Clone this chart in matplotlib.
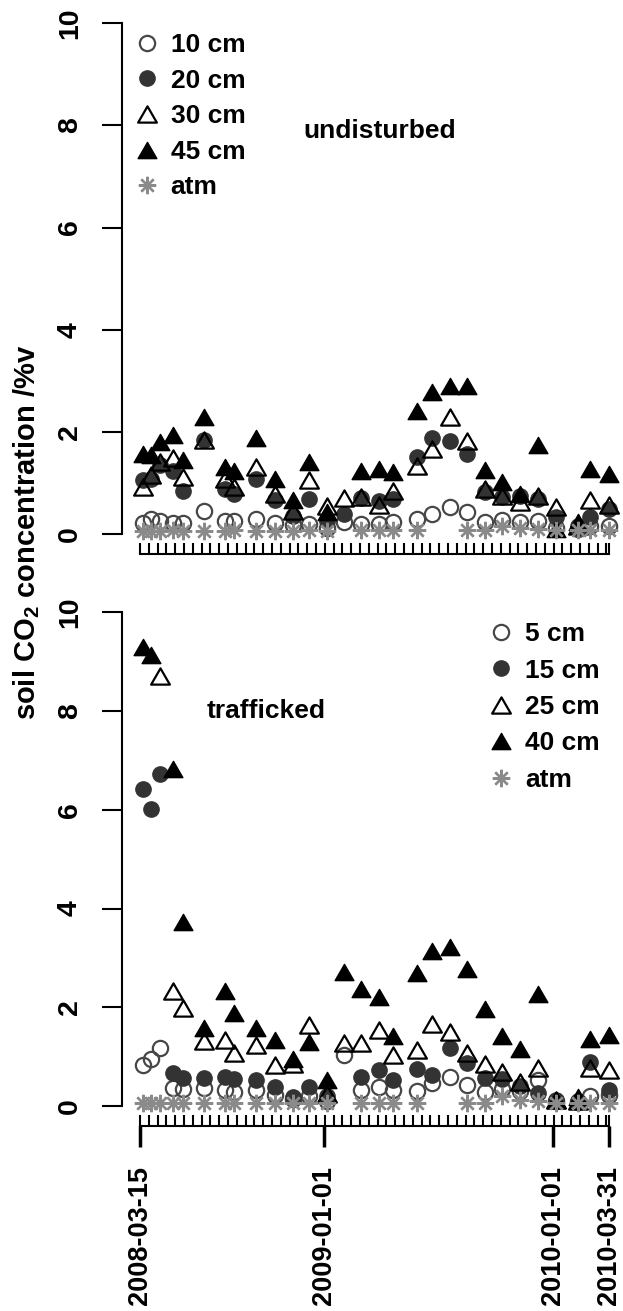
import numpy as np
import pandas as pd
import matplotlib
matplotlib.use("Agg")
import matplotlib.pyplot as plt
import matplotlib.dates as mdates
from matplotlib.path import Path

plt.rcParams['font.family'] = ['Liberation Sans', 'DejaVu Sans']
plt.rcParams['font.weight'] = 'bold'
plt.rcParams['mathtext.fontset'] = 'custom'
plt.rcParams['mathtext.rm'] = 'Liberation Sans:bold'
plt.rcParams['mathtext.it'] = 'Liberation Sans:bold'
plt.rcParams['mathtext.bf'] = 'Liberation Sans:bold'

nan = np.nan

# sampling dates
dates = pd.to_datetime([
    '2008-03-19', '2008-04-01', '2008-04-15', '2008-05-06', '2008-05-22',
    '2008-06-25', '2008-07-28', '2008-08-12', '2008-09-15', '2008-10-15',
    '2008-11-13', '2008-12-09', '2009-01-06', '2009-02-02', '2009-03-02',
    '2009-03-30', '2009-04-22', '2009-05-29', '2009-06-22', '2009-07-21',
    '2009-08-17', '2009-09-15', '2009-10-12', '2009-11-09', '2009-12-08',
    '2010-01-06', '2010-02-10', '2010-03-01', '2010-03-31'])

# undisturbed plot, CO2 in %v
und_10 = [0.22, 0.30, 0.26, 0.22, 0.22, 0.46, 0.26, 0.26, 0.30, 0.22, 0.18, 0.20, 0.12, 0.23, 0.20,
          0.20, 0.23, 0.29, 0.39, 0.52, 0.43, 0.23, 0.28, 0.23, 0.26, 0.12, 0.10, 0.16, 0.16]
und_20 = [1.05, 1.08, 1.35, 1.24, 0.85, 1.84, 0.89, 0.79, 1.07, 0.66, 0.36, 0.69, 0.26, 0.39, 0.70,
          0.64, 0.69, 1.51, 1.87, 1.82, 1.57, 0.82, 0.72, 0.74, 0.69, 0.33, 0.15, 0.33, 0.49]
und_30 = [0.92, 1.15, 1.40, 1.48, 1.12, 1.84, 1.08, 0.92, 1.31, 0.79, 0.45, 1.05, 0.54, 0.70, 0.72,
          0.57, 0.85, 1.34, 1.67, 2.30, 1.82, 0.89, 0.75, 0.62, 0.75, 0.52, 0.15, 0.66, 0.56]
und_45 = [1.57, 1.54, 1.80, 1.94, 1.44, 2.30, 1.31, 1.24, 1.88, 1.08, 0.66, 1.41, 0.43, nan, 1.24,
          1.28, 1.22, 2.40, 2.79, 2.89, 2.89, 1.25, 1.02, 0.79, 1.74, 0.09, 0.23, 1.28, 1.18]
und_atm = [0.06, 0.06, 0.06, 0.07, 0.06, 0.06, 0.06, 0.07, 0.06, 0.06, 0.06, 0.07, 0.06, nan, 0.07,
           0.07, 0.07, 0.07, nan, nan, 0.07, 0.07, 0.15, 0.12, 0.10, 0.08, 0.07, 0.07, 0.07]

# trafficked plot
trf_5 = [0.83, 0.95, 1.17, 0.36, 0.34, 0.36, 0.32, 0.29, 0.32, 0.23, 0.15, 0.20, 0.10, 1.03, 0.32,
         0.38, 0.32, 0.31, 0.46, 0.59, 0.43, 0.29, 0.35, 0.30, 0.52, 0.10, 0.08, 0.21, 0.23]
trf_15 = [6.42, 6.01, 6.72, 0.66, 0.56, 0.56, 0.59, 0.54, 0.52, 0.38, 0.18, 0.38, 0.20, nan, 0.59,
          0.73, 0.53, 0.74, 0.63, 1.17, 0.88, 0.56, 0.54, 0.40, 0.27, 0.12, 0.10, 0.90, 0.33]
trf_25 = [nan, nan, 8.71, 2.32, 1.98, 1.32, 1.34, 1.08, 1.24, 0.83, 0.85, 1.65, 0.25, 1.27, 1.28,
          1.54, 1.03, 1.13, 1.67, 1.50, 1.08, 0.86, 0.69, 0.49, 0.76, 0.12, 0.10, 0.76, 0.73]
trf_40 = [9.30, 9.13, nan, 6.82, 3.73, 1.57, 2.32, 1.88, 1.57, 1.34, 0.95, 1.29, 0.53, 2.72, 2.36,
          2.21, 1.42, 2.69, 3.13, 3.23, 2.77, 1.96, 1.42, 1.15, 2.27, 0.13, 0.18, 1.35, 1.44]
trf_atm = [0.05, 0.05, 0.05, 0.06, 0.05, 0.05, 0.05, 0.06, 0.05, 0.05, 0.05, 0.06, 0.05, nan, 0.06,
           0.06, 0.06, 0.06, nan, nan, 0.06, 0.06, 0.20, 0.13, 0.10, 0.07, 0.06, 0.06, 0.06]

und_labels = ['10 cm', '20 cm', '30 cm', '45 cm', 'atm']
trf_labels = ['5 cm', '15 cm', '25 cm', '40 cm', 'atm']

start = pd.Timestamp('2008-03-15')
end = pd.Timestamp('2010-03-31')
major_dates = pd.to_datetime(['2008-03-15', '2009-01-01', '2010-01-01', '2010-03-31'])
minor_dates = list(pd.date_range(start, end, freq='14D')) + [end]

# equilateral triangle, like R's pch 2 / 17
tri = Path([(0, 1), (-1.1547, -1), (1.1547, -1), (0, 1)], closed=True)

styles = [
    dict(marker='o', mfc='none', mec='#474747', ms=11, mew=1.6),
    dict(marker='o', mfc='#333333', mec='#333333', ms=11, mew=1.0),
    dict(marker=tri, mfc='none', mec='black', ms=13.5, mew=1.6),
    dict(marker=tri, mfc='black', mec='black', ms=13.5, mew=1.0),
    dict(marker=(8, 2, 0), mfc='none', mec='#8a8a8a', ms=12.5, mew=1.7),
]

fig = plt.figure(figsize=(6.23, 13.11), dpi=100)
ax1 = fig.add_axes([0.1963, 0.5771, 0.7989, 0.4207])
ax2 = fig.add_axes([0.1963, 0.14134, 0.7989, 0.40664])


def draw_panel(ax, series, labels):
    handles = []
    for vals, st, lab in zip(series, styles, labels):
        h, = ax.plot(dates, vals, linestyle='none', clip_on=False, label=lab, **st)
        handles.append(h)
    ax.set_ylim(-0.4, 10.4)
    ax.set_xlim(start - pd.Timedelta(days=28.2), start + pd.Timedelta(days=763.5))
    for s in ('top', 'right'):
        ax.spines[s].set_visible(False)
    ax.spines['left'].set_bounds(0, 10)
    ax.spines['bottom'].set_bounds(mdates.date2num(start), mdates.date2num(end))
    for s in ('left', 'bottom'):
        ax.spines[s].set_linewidth(1.5)
    ax.set_yticks([0, 2, 4, 6, 8, 10])
    ax.tick_params(axis='y', length=14.4, width=1.5, pad=14, labelsize=20.5)
    for t in ax.get_yticklabels():
        t.set_rotation(90)
        t.set_va('center')
        t.set_ha('right')
    ax.xaxis.remove_overlapping_locs = False
    ax.set_xticks(minor_dates, minor=True)
    ax.tick_params(axis='x', which='minor', direction='in', length=8, width=1.5)
    return handles


h1 = draw_panel(ax1, [und_10, und_20, und_30, und_45, und_atm], und_labels)
ax1.set_xticks([])
ax1.set_xticks(minor_dates, minor=True)

h2 = draw_panel(ax2, [trf_5, trf_15, trf_25, trf_40, trf_atm], trf_labels)
ax2.set_xticks(major_dates)
ax2.set_xticklabels([d.strftime('%Y-%m-%d') for d in major_dates], rotation=90,
                    fontsize=19.5)
ax2.tick_params(axis='x', which='major', direction='out', length=15, width=2.5, pad=14)

leg_kw = dict(loc='upper left', frameon=False, fontsize=19, handlelength=0.8,
              handletextpad=0.5, borderpad=0, borderaxespad=0)
ax1.legend(handles=h1, bbox_to_anchor=(0.028, 0.9454), labelspacing=0.44, **leg_kw)
ax2.legend(handles=h2, bbox_to_anchor=(0.74, 0.9446), labelspacing=0.47, **leg_kw)

ax1.text(pd.Timestamp('2009-04-01'), 7.9, 'undisturbed', ha='center', va='center', fontsize=19)
ax2.text(pd.Timestamp('2008-10-01'), 8.0, 'trafficked', ha='center', va='center', fontsize=19)

fig.text(27 / 623, 1 - 532 / 1311, 'soil CO$_2$ concentration /%v', rotation=90,
         ha='center', va='center', fontsize=21)

fig.savefig('out.png', dpi=100)
